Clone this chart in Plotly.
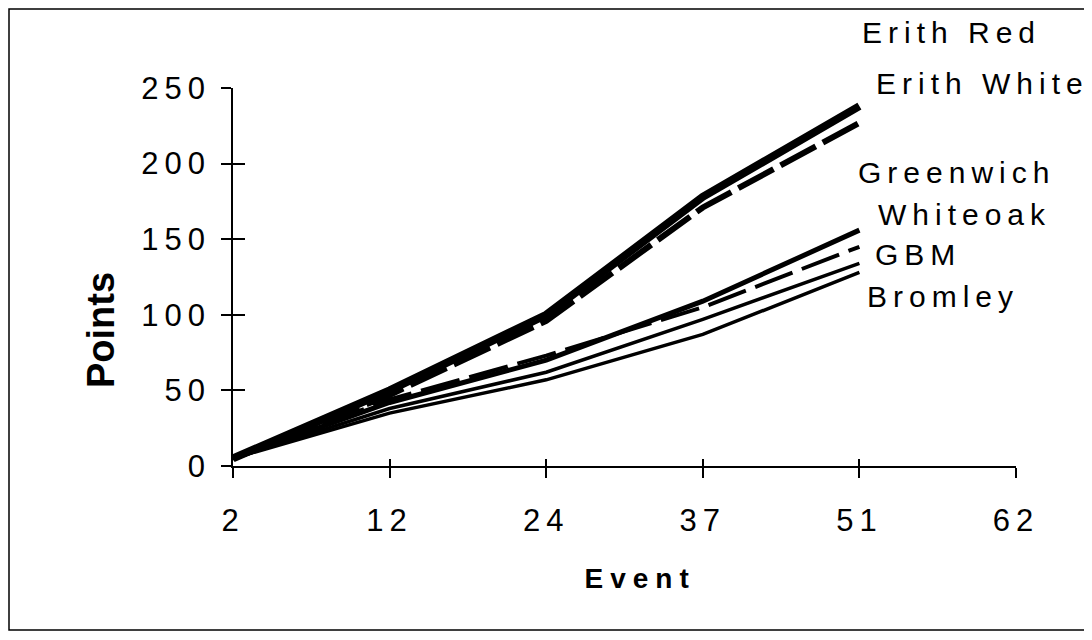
import plotly.graph_objects as go

events = ["2", "12", "24", "37", "51"]
axis_ticks = ["2", "12", "24", "37", "51", "62"]
y_ticks = [0, 50, 100, 150, 200, 250]

erith_red = [5, 50, 100, 178, 238]
erith_white = [5, 47, 96, 171, 227]
greenwich = [5, 42, 70, 109, 156]
whiteoak = [5, 44, 73, 105, 145]
gbm = [5, 38, 62, 97, 134]
bromley = [5, 35, 57, 87, 128]

series = [
    ("Erith Red", erith_red, 8, "solid"),
    ("Erith White", erith_white, 6, "40px,8px"),
    ("Greenwich", greenwich, 5, "solid"),
    ("Whiteoak", whiteoak, 4, "40px,10px"),
    ("GBM", gbm, 3.5, "solid"),
    ("Bromley", bromley, 3.5, "solid"),
]

OFF = 8  # page body margin
SL, SR, ST, SB = 233, 1016, 88, 466
L, R, T, B = SL - OFF, SR - OFF, ST - OFF, SB - OFF
W, H = 1092, 640
font = "Liberation Sans, Arial, sans-serif"

xpos = list(range(len(events)))
fig = go.Figure()
for name, vals, w, dash in series:
    fig.add_trace(go.Scatter(x=xpos, y=vals, mode="lines", name=name,
                             line=dict(color="black", width=w, dash=dash),
                             showlegend=False))

fig.update_layout(
    width=W, height=H,
    margin=dict(l=L, r=W - R, t=T, b=H - B),
    paper_bgcolor="white", plot_bgcolor="white",
    xaxis=dict(range=[0, 5], tickvals=list(range(len(axis_ticks))), ticktext=axis_ticks,
               showgrid=False, zeroline=False, showline=True, linecolor="black", linewidth=1.5,
               ticks="outside", ticklen=10, tickwidth=1.5, tickcolor="black",
               ticklabelstandoff=16,
               tickfont=dict(family=font, size=31, color="black")),
    yaxis=dict(range=[0, 250], tickvals=y_ticks,
               showgrid=False, zeroline=False, showline=True, linecolor="black", linewidth=1.5,
               ticks="outside", ticklen=10, tickwidth=1.5, tickcolor="black",
               ticklabelstandoff=4,
               tickfont=dict(family=font, size=31, color="black")),
    xaxis2=dict(range=[0, 5], tickvals=list(range(len(axis_ticks))), overlaying="x", anchor="y2",
                showticklabels=False, showgrid=False, zeroline=False, showline=False,
                ticks="inside", ticklen=7, tickwidth=1.5, tickcolor="black", side="bottom"),
    yaxis2=dict(range=[0, 250], tickvals=y_ticks, overlaying="y", anchor="x2",
                showticklabels=False, showgrid=False, zeroline=False, showline=False,
                ticks="inside", ticklen=12, tickwidth=1.5, tickcolor="black", side="left"),
)
fig.add_trace(go.Scatter(x=[0], y=[0], xaxis="x2", yaxis="y2", mode="markers",
                         marker=dict(opacity=0), showlegend=False, hoverinfo="skip"))

def px(sx):
    return (sx - OFF - L) / (R - L)

def py(sy):
    return (B - (sy - OFF)) / (B - T)

labels = [
    ("Erith Red", 951, 33),
    ("Erith White", 982, 84),
    ("Greenwich", 956, 172),
    ("Whiteoak", 965, 214),
    ("GBM", 918, 254),
    ("Bromley", 943, 296),
]
for text, cx, cy in labels:
    fig.add_annotation(x=px(cx), y=py(cy), xref="paper", yref="paper", text=text,
                       showarrow=False, xanchor="center", yanchor="middle",
                       font=dict(family=font, size=30, color="black"))

fig.add_annotation(x=px(640), y=py(578), xref="paper", yref="paper", text="<b>Event</b>",
                   showarrow=False, xanchor="center", yanchor="middle",
                   font=dict(family=font, size=28, color="black"))
fig.add_annotation(x=px(101), y=py(330), xref="paper", yref="paper", text="<b>Points</b>",
                   showarrow=False, xanchor="center", yanchor="middle", textangle=-90,
                   font=dict(family="Liberation Sans Narrow, Arial Narrow, Liberation Sans", size=38, color="black"))

fig.add_shape(type="rect", xref="paper", yref="paper",
              x0=px(9), x1=px(1085), y0=py(630), y1=py(9),
              line=dict(color="black", width=1.5), fillcolor="rgba(0,0,0,0)")

post = """
var st = document.createElement('style');
st.textContent = '.xtick text, .ytick text { letter-spacing: 6px; }';
document.head.appendChild(st);
document.querySelectorAll('.annotation-text').forEach(function(e){
  var t = e.textContent;
  if (t === 'Points') { e.style.letterSpacing = '0px'; }
  else if (t === 'Event') { e.style.letterSpacing = '7px'; }
  else { e.style.letterSpacing = '6px'; }
});
"""
fig.write_html("out.html", post_script=post)
